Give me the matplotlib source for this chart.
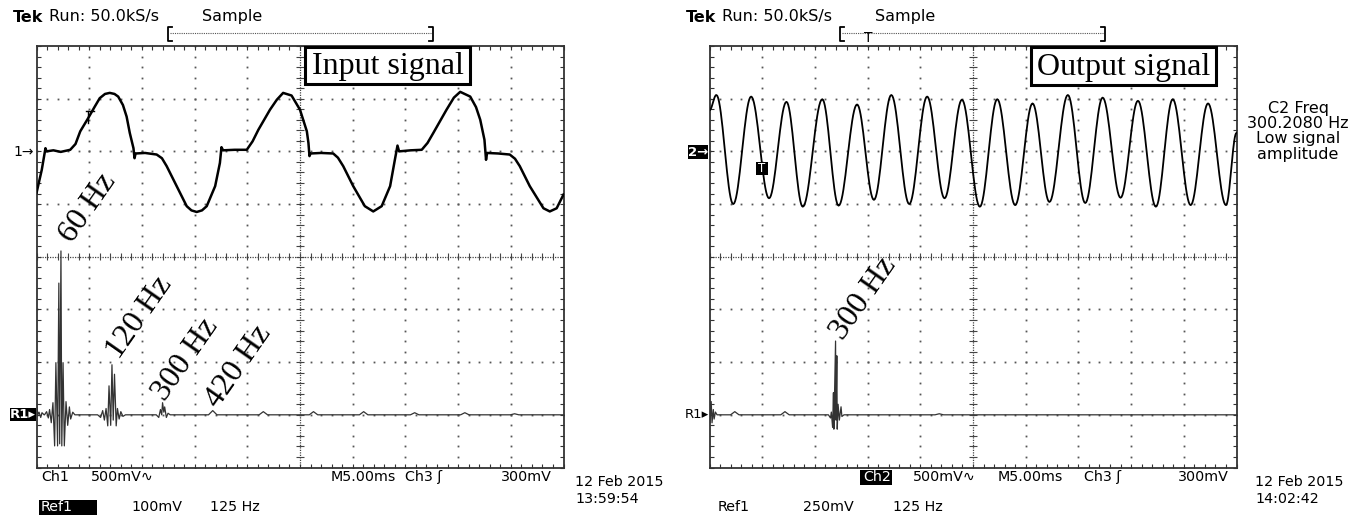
import numpy as np
import matplotlib
matplotlib.use("Agg")
import matplotlib.pyplot as plt
from matplotlib.patches import Rectangle

W, H, DPI = 1366, 517, 100

# scope settings (per division)
MS_PER_DIV = 5.0
CH_MV_PER_DIV = 500.0
HZ_PER_DIV = 125.0
REF_LEFT_MV = 100.0
REF_RIGHT_MV = 250.0
CH_OFFSET = 2.0
REF_OFFSET = -3.0

# Ch1 input signal: time (ms), level (mV)
in_t = [0.0, 0.5, 0.85, 0.95, 1.6, 2.3, 3.2, 3.7, 4.15, 4.9, 5.5, 6.0, 6.5, 6.95,
        7.4, 7.75, 8.2, 8.55, 8.85, 9.2, 9.3, 9.4, 10.3, 11.4, 11.9, 12.35, 13.3,
        14.25, 14.7, 15.2, 15.7, 16.15, 16.95, 17.4, 17.55, 17.7, 18.8, 19.95,
        20.5, 21.05, 22.15, 22.8, 23.4, 24.2, 25.0, 25.65, 25.8, 25.9, 26.0, 27.0,
        28.15, 28.6, 29.1, 30.05, 31.15, 31.95, 32.75, 33.55, 34.0, 34.25, 34.4,
        35.5, 36.55, 37.1, 37.65, 38.9, 39.6, 40.2, 41.15, 41.7, 42.1, 42.5, 42.65,
        42.75, 43.8, 44.9, 45.4, 45.85, 46.8, 48.1, 48.7, 49.35, 50.0]
in_mv = [-395, -175, 30, 0, 10, -5, 15, 70, 190, 315, 420, 505, 545, 555,
         545, 520, 440, 330, 175, 30, -65, -20, -15, -30, -65, -140, -330,
         -520, -560, -575, -560, -520, -330, -110, 40, 10, 15, 15,
         95, 205, 395, 490, 555, 530, 395, 190, 80, -45, -20, -15,
         -20, -60, -140, -330, -520, -570, -520, -330, -80, 55, 0,
         10, 15, 80, 175, 395, 510, 565, 520, 420, 300, 110, -80,
         -15, -20, -30, -70, -140, -330, -540, -570, -540, -410]

# Ch2 output signal: successive extremes, time (ms), level (mV)
out_t = [0.0, 0.65, 2.25, 3.95, 5.65, 7.3, 8.85, 10.7, 12.25, 14.0, 15.6, 17.25,
         18.95, 20.65, 22.3, 23.95, 25.65, 27.3, 29.0, 30.65, 32.25, 34.0, 35.65,
         37.3, 39.0, 40.65, 42.35, 43.95, 45.65, 47.3, 49.0, 50.0]
out_mv = [390, 535, -500, 520, -445, 470, -525, 495, -515, 445, -460, 535,
          -500, 520, -445, 490, -525, 495, -510, 455, -480, 535, -490,
          510, -440, 480, -525, 495, -510, 455, -510, 175]

# Ref1 FFT of the input (Hz, mV)
refL_f = [0, 3, 6, 10, 13, 18,
          19, 24, 28, 31, 35, 39, 43, 46, 50, 53, 55, 58, 60, 63, 66, 70, 74, 78, 81, 86, 91,
          145, 152, 157, 161, 165, 169, 172, 176, 179, 182, 185, 189, 192, 196, 200, 205, 211,
          284, 290, 294, 297, 299, 302, 304, 308, 312, 317]
refL_mv = [27, 0, 5, -5, 4, 0,
           0, 6, -6, 10, -15, 23, -59, 99, -59, 250, -55, 311, -59, 99, -59, 25, -20, 15, -8, 5, 0,
           0, -5, 8, -10, 12, -21, 55, -20, 95, -10, 77, -21, 12, -8, 6, -3, 0,
           0, -5, 10, 0, 23, 5, 15, -5, 3, 0]
refL_bump_f = [418, 538, 657, 776, 897, 1016, 1134]
refL_bump_mv = [8, 6, 6, 6, 4, 4, 2]

# Ref1 FFT of the output (Hz, mV)
refR_f = [0, 1, 4, 6, 9, 11, 14, 18,
          282, 287, 289, 292, 294, 295, 299, 300, 302, 303, 305, 308, 312, 314, 319]
refR_mv = [240, -38, 63, -38, 25, -20, 13, 0,
           0, -15, 13, -60, 105, -68, 350, -25, 280, -68, 50, -25, 38, -8, 0]
refR_bump_f = [60, 179, 545]
refR_bump_mv = [15, 15, 5]

BUMP_HALF_HZ = 10
TEK = "DejaVu Sans"
SERIF = "Liberation Serif"


def half_cos(ts, vs, n=20):
    xs, ys = [], []
    for i in range(len(ts) - 1):
        s = np.linspace(0, 1, n)
        xs.append(ts[i] + (ts[i + 1] - ts[i]) * s)
        ys.append(vs[i] + (vs[i + 1] - vs[i]) * (1 - np.cos(np.pi * s)) / 2)
    return np.concatenate(xs), np.concatenate(ys)


def spectrum(fs, mvs, bump_f, bump_mv):
    pts = list(zip(fs, mvs))
    for f, h in zip(bump_f, bump_mv):
        pts += [(f - BUMP_HALF_HZ, 0), (f, h), (f + BUMP_HALF_HZ, 0)]
    pts.append((10 * HZ_PER_DIV, 0))
    pts.sort(key=lambda p: p[0])
    return np.array([p[0] for p in pts]), np.array([p[1] for p in pts])


def graticule(ax):
    ax.set_xlim(0, 10)
    ax.set_ylim(-4, 4)
    fine_x = np.arange(0, 10.001, 0.2)
    fine_y = np.arange(-4, 4.001, 0.2)
    ax.set_xticks(fine_x)
    ax.set_yticks(fine_y)
    ax.tick_params(direction="in", length=3, width=0.8, color="#333333",
                   top=True, right=True, labelbottom=False, labelleft=False)
    for s in ax.spines.values():
        s.set_linewidth(1.3)
        s.set_color("#333333")
    for gx in range(1, 10):
        if gx != 5:
            ax.plot([gx] * len(fine_y), fine_y, ls="none", marker="s", ms=1.3,
                    mew=0, color="#555555", zorder=1)
    for gy in range(-3, 4):
        if gy != 0:
            ax.plot(fine_x, [gy] * len(fine_x), ls="none", marker="s", ms=1.3,
                    mew=0, color="#555555", zorder=1)
    ax.axhline(0, ls=(0, (1, 1)), lw=0.9, color="#444444", zorder=1)
    ax.axvline(5, ls=(0, (1, 1)), lw=0.9, color="#444444", zorder=1)
    ax.vlines(fine_x, -0.07, 0.07, lw=0.8, color="#444444", zorder=1)
    ax.hlines(fine_y, 4.93, 5.07, lw=0.8, color="#444444", zorder=1)


fig = plt.figure(figsize=(W / DPI, H / DPI), dpi=DPI)
ax_l = fig.add_axes([36.5 / W, 1 - 467.5 / H, 527 / W, 421.5 / H])
ax_r = fig.add_axes([709.5 / W, 1 - 467.5 / H, 527 / W, 421.5 / H])
for ax in (ax_l, ax_r):
    graticule(ax)

# traces
ax_l.plot(np.array(in_t) / MS_PER_DIV, CH_OFFSET + np.array(in_mv) / CH_MV_PER_DIV,
          color="black", lw=1.8, zorder=3)
ot, ov_ = half_cos(out_t, out_mv)
ax_r.plot(ot / MS_PER_DIV, CH_OFFSET + ov_ / CH_MV_PER_DIV, color="black", lw=1.3, zorder=3)

sf, sv = spectrum(refL_f, refL_mv, refL_bump_f, refL_bump_mv)
ax_l.plot(sf / HZ_PER_DIV, REF_OFFSET + sv / REF_LEFT_MV, color="#333333", lw=0.9, zorder=3)
sf, sv = spectrum(refR_f, refR_mv, refR_bump_f, refR_bump_mv)
ax_r.plot(sf / HZ_PER_DIV, REF_OFFSET + sv / REF_RIGHT_MV, color="#333333", lw=0.9, zorder=3)

# overlay in pixel coordinates for the screen texts
ov = fig.add_axes([0, 0, 1, 1], zorder=5)
ov.set_xlim(0, W)
ov.set_ylim(H, 0)
ov.axis("off")
ov.patch.set_alpha(0)

for dx, bl, br, tpos in ((0, 168, 433, None), (673.5, 839.5, 1104.8, 868)):
    ov.text(12.8 + dx, 17, "Tek", fontsize=11.5, fontweight="bold", family=TEK, va="center")
    ov.text(48.8 + dx, 17, "Run: 50.0kS/s", fontsize=11.5, family=TEK, va="center")
    ov.text(202 + dx, 17, "Sample", fontsize=11.5, family=TEK, va="center")
    ov.plot([bl + 4, bl, bl, bl + 4], [27, 27, 41, 41], color="black", lw=1.3)
    ov.plot([br - 4, br, br, br - 4], [27, 27, 41, 41], color="black", lw=1.3)
    ov.plot([bl + 2, br - 2], [33, 33], color="#555555", lw=0.8, ls=(0, (1, 1)))
    if tpos:
        ov.text(tpos, 31, "T", fontsize=10, family=TEK, ha="center", va="top")

# signal name boxes
for (x0, x1, y0, y1, label) in ((305, 470, 47, 84, "Input signal"),
                                (1031, 1216, 47, 85, "Output signal")):
    ov.add_patch(Rectangle((x0, y0), x1 - x0, y1 - y0, fc="white", ec="black", lw=2.2, zorder=4))
    ov.text((x0 + x1) / 2, (y0 + y1) / 2 + 1, label, fontsize=23, family=SERIF,
            ha="center", va="center", zorder=5)

# rotated frequency labels
for (x, y, s) in ((88, 208, "60 Hz"), (140, 318, "120 Hz"), (186, 360, "300 Hz"),
                  (239, 367, "420 Hz"), (864, 299, "300 Hz")):
    ov.text(x, y, s, fontsize=23, family=SERIF, rotation=55, rotation_mode="anchor",
            ha="center", va="center")

# channel markers
ov.text(34, 151.7, "1\u2192", fontsize=10, family=TEK, ha="right", va="center")
ov.add_patch(Rectangle((688, 145), 20, 14, fc="black", ec="none"))
ov.text(698, 152, "2\u2192", fontsize=9.5, family=TEK, color="white", fontweight="bold",
        ha="center", va="center")
ov.add_patch(Rectangle((10, 408), 26, 13, fc="black", ec="none"))
ov.text(23, 414.5, "R1\u25b8", fontsize=9.5, family=TEK, color="white", fontweight="bold",
        ha="center", va="center")
ov.text(709, 414, "R1\u25b8", fontsize=9.5, family=TEK, ha="right", va="center")
ov.add_patch(Rectangle((755.7, 162), 12.5, 13, fc="black", ec="none"))
ov.text(762, 168.5, "T", fontsize=8.5, family=TEK, color="white", ha="center", va="center")
ov.plot([86, 94], [110.7, 110.7], color="black", lw=1)
ov.plot([88.3, 88.3], [110.7, 123], color="black", lw=1)

# right-hand measurement readout
for y, s in ((108, "C2 Freq"), (123.5, "300.2080 Hz"), (139, "Low signal"), (154, "amplitude")):
    ov.text(1298, y, s, fontsize=11.5, family=TEK, ha="center", va="center")

# bottom status rows
fs = 10.3
r1, r2 = 477, 507
ov.text(41.6, r1, "Ch1", fontsize=fs, family=TEK, va="center")
ov.text(91, r1, "500mV\u223f", fontsize=fs, family=TEK, va="center")
ov.text(330.6, r1, "M5.00ms", fontsize=fs, family=TEK, va="center")
ov.text(405, r1, "Ch3 \u0283", fontsize=fs, family=TEK, va="center")
ov.text(501, r1, "300mV", fontsize=fs, family=TEK, va="center")
ov.text(575, 482, "12 Feb 2015", fontsize=fs, family=TEK, va="center")
ov.text(575, 499, "13:59:54", fontsize=fs, family=TEK, va="center")
ov.add_patch(Rectangle((38.5, r2 - 7.5), 58, 15, fc="black", ec="none"))
ov.text(40.5, r2, "Ref1", fontsize=fs, family=TEK, color="white", va="center")
ov.text(131, r2, "100mV", fontsize=fs, family=TEK, va="center")
ov.text(210, r2, "125 Hz", fontsize=fs, family=TEK, va="center")

ov.add_patch(Rectangle((860.3, r1 - 7.5), 32, 15, fc="black", ec="none"))
ov.text(863, r1, "Ch2", fontsize=fs, family=TEK, color="white", va="center")
ov.text(913, r1, "500mV\u223f", fontsize=fs, family=TEK, va="center")
ov.text(998, r1, "M5.00ms", fontsize=fs, family=TEK, va="center")
ov.text(1083.6, r1, "Ch3 \u0283", fontsize=fs, family=TEK, va="center")
ov.text(1177.7, r1, "300mV", fontsize=fs, family=TEK, va="center")
ov.text(1255, 482, "12 Feb 2015", fontsize=fs, family=TEK, va="center")
ov.text(1255, 499, "14:02:42", fontsize=fs, family=TEK, va="center")
ov.text(718, r2, "Ref1", fontsize=fs, family=TEK, va="center")
ov.text(803, r2, "250mV", fontsize=fs, family=TEK, va="center")
ov.text(893, r2, "125 Hz", fontsize=fs, family=TEK, va="center")

fig.savefig("out.png", dpi=DPI)
